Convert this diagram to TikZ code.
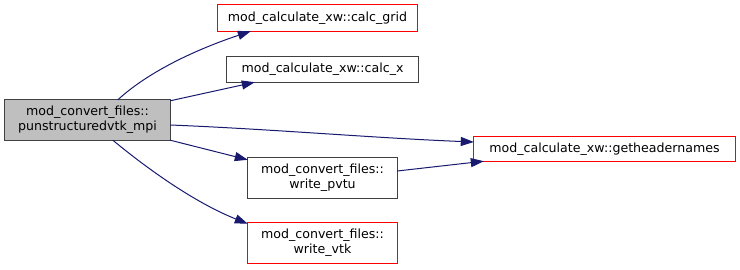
\documentclass[tikz,border=0pt]{standalone}
\usepackage{fontspec}
\setmainfont{DejaVu Sans}
\usetikzlibrary{arrows.meta}
\definecolor{edgeblue}{HTML}{191970}
\definecolor{boxgrey}{HTML}{404040}
\definecolor{fillgrey}{HTML}{BFBFBF}
\definecolor{boxred}{HTML}{FF0000}
\begin{document}
\begin{tikzpicture}[x=1pt,y=-1pt,
  box/.style={align=center, inner sep=0pt, font=\fontsize{12.6}{15}\selectfont},
  frameblack/.style={draw=boxgrey, line width=1pt},
  framered/.style={draw=boxred, line width=1pt},
  edge/.style={draw=edgeblue, line width=1pt, -{Triangle[length=13pt,width=9pt]}}]
\useasboundingbox (0,0) rectangle (740,270);
\node[box, fill=fillgrey, minimum width=165pt, minimum height=40pt] (main) at (87.5,120) {mod\_convert\_files::\\punstructuredvtk\_mpi};
\node[box, minimum width=199pt, minimum height=26pt] (grid) at (317.5,18) {mod\_calculate\_xw::calc\_grid};
\node[box, minimum width=191pt, minimum height=25pt] (calcx) at (322.5,69.5) {mod\_calculate\_xw::calc\_x};
\node[box, minimum width=261pt, minimum height=24pt] (gh) at (604.5,149) {mod\_calculate\_xw::getheadernames};
\node[box, minimum width=149pt, minimum height=40pt] (pvtu) at (322.5,178) {mod\_convert\_files::\\write\_pvtu};
\node[box, minimum width=149pt, minimum height=40pt] (vtk) at (322.5,243) {mod\_convert\_files::\\write\_vtk};

\draw[frameblack] (main.north west) rectangle (main.south east);
\draw[framered] (grid.north west) rectangle (grid.south east);
\draw[frameblack] (calcx.north west) rectangle (calcx.south east);
\draw[framered] (gh.north west) rectangle (gh.south east);
\draw[frameblack] (pvtu.north west) rectangle (pvtu.south east);
\draw[framered] (vtk.north west) rectangle (vtk.south east);

\draw[edge] ([xshift=113pt]main.north west) .. controls +(35,-32) and +(-45,15) .. ([xshift=33pt]grid.south west);
\draw[edge] ([yshift=-1pt]main.north east) -- ([xshift=28pt]calcx.south west);
\draw[edge] ([yshift=-5pt]main.east) .. controls +(100,4) and +(-100,-4) .. ([yshift=7pt]gh.west);
\draw[edge] (main.south east) -- ([yshift=-2pt]pvtu.north west);
\draw[edge] ([yshift=7pt]pvtu.east) -- ([xshift=10pt]gh.south west);
\draw[edge] ([xshift=108pt]main.south west) .. controls +(40,33) and +(-50,-20) .. ([yshift=-1pt]vtk.north west);
\end{tikzpicture}
\end{document}
